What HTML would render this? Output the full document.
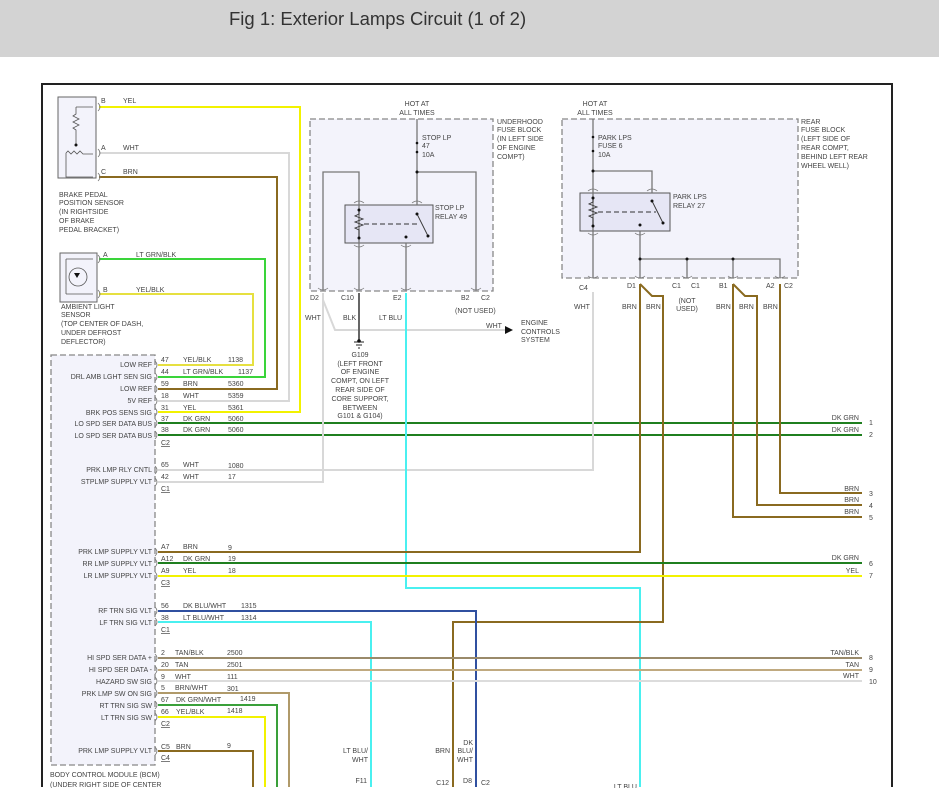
<!DOCTYPE html>
<html><head><meta charset="utf-8"><style>
html,body{margin:0;padding:0;background:#fff;width:939px;height:807px;overflow:hidden}
svg{display:block}
text{font-family:"Liberation Sans",sans-serif;font-size:7px;fill:#444}
.r{text-anchor:end}.m{text-anchor:middle}
</style></head><body>
<svg width="939" height="807" viewBox="0 0 939 807" xmlns="http://www.w3.org/2000/svg">
<rect x="0" y="0" width="939" height="57" fill="#d3d3d3"/>
<text x="229" y="25" style="font-size:18.5px;fill:#333">Fig 1: Exterior Lamps Circuit (1 of 2)</text>
<!-- frame -->
<path d="M42,787 V84 H892 V787" fill="none" stroke="#222" stroke-width="2"/>

<!-- fuse blocks -->
<rect x="310" y="119" width="183" height="172" fill="#f3f3fb" stroke="#888" stroke-dasharray="6,3" stroke-width="1.3"/>
<rect x="562" y="119" width="236" height="159" fill="#f3f3fb" stroke="#888" stroke-dasharray="6,3" stroke-width="1.3"/>
<!-- BCM -->
<rect x="51" y="355" width="104" height="410" fill="#f3f3fb" stroke="#888" stroke-dasharray="6,3" stroke-width="1.3"/>
<!-- sensors -->
<rect x="58" y="97" width="38" height="81" fill="#f3f3fb" stroke="#666"/>
<rect x="60" y="253" width="37" height="49" fill="#f3f3fb" stroke="#666"/>
<g fill="none" stroke="#555" stroke-width="0.8">
<path d="M76,107 H93 M76,107 V114 l-3,2 6,3 -6,3 6,3 -6,3 3,2 V145 M66,153 l2,-2 3,3 3,-3 3,3 3,-3 3,3 H93 M66,153 V177 H93"/>
<path d="M66,259 H93 M66,294 H93 M66,259 V294"/>
<circle cx="78" cy="277" r="9"/>
</g>
<circle cx="76" cy="145" r="1.5" fill="#111"/>
<path d="M74,273 h6 l-3,5z" fill="#111"/>

<!-- relays -->
<rect x="345" y="205" width="88" height="38" fill="#e6e6f5" stroke="#555"/>
<rect x="580" y="193" width="90" height="38" fill="#e6e6f5" stroke="#555"/>
<g fill="none" stroke="#777" stroke-width="1.3">
<path d="M323,290 V172 H359 V290 M417,119 V172 H476 V290 M417,172 V205 M406,243 V290"/>
<path d="M593,119 V278 M593,171 H652 V193 M640,231 V278 M640,259 H780 V278 M687,259 V278 M733,259 V278"/>
</g>
<g fill="none" stroke="#333" stroke-width="0.9">
<path d="M359,210 V214 l-4,2 8,3 -8,3 8,3 -8,3 4,2 V238"/>
<path d="M364,224 H420" stroke-dasharray="5,3"/>
<path d="M417,214 L428,236"/>
<path d="M593,198 V202 l-4,2 8,3 -8,3 8,3 -8,3 4,2 V226"/>
<path d="M598,212 H656" stroke-dasharray="5,3"/>
<path d="M652,201 L663,223"/>
</g>
<g fill="#111">
<circle cx="359" cy="210" r="1.5"/><circle cx="359" cy="238" r="1.5"/><circle cx="417" cy="214" r="1.5"/><circle cx="428" cy="236" r="1.5"/><circle cx="406" cy="237" r="1.5"/>
<circle cx="417" cy="172" r="1.5"/><circle cx="417" cy="143" r="1.3"/><circle cx="417" cy="152" r="1.3"/>
<circle cx="593" cy="198" r="1.5"/><circle cx="593" cy="226" r="1.5"/><circle cx="652" cy="201" r="1.5"/><circle cx="663" cy="223" r="1.5"/><circle cx="640" cy="225" r="1.5"/>
<circle cx="593" cy="171" r="1.5"/><circle cx="593" cy="137" r="1.3"/><circle cx="593" cy="151" r="1.3"/>
<circle cx="640" cy="259" r="1.5"/><circle cx="687" cy="259" r="1.5"/><circle cx="733" cy="259" r="1.5"/>
</g>

<!-- wires -->
<g fill="none" stroke-width="2">
<path d="M99,107 H300 V412 H158" stroke="#f2f200"/>
<path d="M99,153 H289 V401 H158" stroke="#d8d8d8"/>
<path d="M99,177 H277 V389 H158" stroke="#8a6a20"/>
<path d="M99,259 H265 V377 H158" stroke="#3ad43a"/>
<path d="M99,294 H253 V365 H158" stroke="#e6e040"/>
<path d="M158,423 H862 M158,435 H862" stroke="#1f7f1f"/>
<path d="M158,470 H593 V292" stroke="#d8d8d8"/>
<path d="M158,482 H323 V293" stroke="#d8d8d8"/>
<path d="M323,300 L335,330 H505" stroke="#d8d8d8"/>
<path d="M359,293 V342" stroke="#666"/>
<path d="M406,293 V588 H640 V787" stroke="#4af0f0"/>
<path d="M158,552 H640 V284" stroke="#8a6a20"/>
<path d="M640,284 L652,296 H663 V622 H453 V787" stroke="#8a6a20"/>
<path d="M158,563 H862" stroke="#1f7f1f"/>
<path d="M158,576 H862" stroke="#f2f200"/>
<path d="M733,284 V517 H862" stroke="#8a6a20"/>
<path d="M733,284 L745,296 H757 V505 H862" stroke="#8a6a20"/>
<path d="M780,284 V493 H862" stroke="#8a6a20"/>
<path d="M158,611 H476 V787" stroke="#3050a0"/>
<path d="M158,622 H371 V787" stroke="#4af0f0"/>
<path d="M158,658 H862" stroke="#9a8a6a"/>
<path d="M158,670 H862" stroke="#c0aa80"/>
<path d="M158,681 H862" stroke="#dcdcdc"/>
<path d="M158,693 H289 V787" stroke="#b09a6a"/>
<path d="M158,705 H277 V787" stroke="#3aa03a"/>
<path d="M158,717 H265 V787" stroke="#f2f200"/>
<path d="M158,751 H253 V787" stroke="#8a6a20"/>
</g>
<path d="M505,326 L513,330 505,334z" fill="#111"/>
<g stroke="#222" stroke-width="1"><path d="M354,342 h10 M356,345 h6 M358,348 h2"/></g>
<circle cx="359" cy="341" r="1.8" fill="#111"/>

<!-- connector marks -->
<g fill="none" stroke="#777" stroke-width="0.8">
<path d="M318,288 q5,4 10,0 M354,288 q5,4 10,0 M401,288 q5,4 10,0 M471,288 q5,4 10,0 M588,276 q5,4 10,0 M635,276 q5,4 10,0 M682,276 q5,4 10,0 M728,276 q5,4 10,0 M775,276 q5,4 10,0"/>
<path d="M354,203 q5,-4 10,0 M412,203 q5,-4 10,0 M354,245 q5,4 10,0 M401,245 q5,4 10,0 M588,191 q5,-4 10,0 M647,191 q5,-4 10,0 M588,233 q5,4 10,0 M635,233 q5,4 10,0"/>
<path d="M98,103 q4,4 0,8 M98,149 q4,4 0,8 M98,173 q4,4 0,8 M98,255 q4,4 0,8 M98,290 q4,4 0,8"/>
<path d="M155,361 q4,4 0,8 M155,373 q4,4 0,8 M155,385 q4,4 0,8 M155,397 q4,4 0,8 M155,408 q4,4 0,8 M155,419 q4,4 0,8 M155,431 q4,4 0,8 M155,466 q4,4 0,8 M155,478 q4,4 0,8 M155,548 q4,4 0,8 M155,559 q4,4 0,8 M155,572 q4,4 0,8 M155,607 q4,4 0,8 M155,618 q4,4 0,8 M155,654 q4,4 0,8 M155,666 q4,4 0,8 M155,677 q4,4 0,8 M155,689 q4,4 0,8 M155,701 q4,4 0,8 M155,713 q4,4 0,8 M155,747 q4,4 0,8"/>
</g>

<!-- sensor labels -->
<text x="101" y="103">B</text><text x="123" y="103">YEL</text>
<text x="101" y="150">A</text><text x="123" y="150">WHT</text>
<text x="101" y="174">C</text><text x="123" y="174">BRN</text>
<text x="59" y="197">BRAKE PEDAL</text><text x="59" y="205">POSITION SENSOR</text><text x="59" y="214">(IN RIGHTSIDE</text><text x="59" y="223">OF BRAKE</text><text x="59" y="232">PEDAL BRACKET)</text>
<text x="103" y="257">A</text><text x="136" y="257">LT GRN/BLK</text>
<text x="103" y="292">B</text><text x="136" y="292">YEL/BLK</text>
<text x="61" y="309">AMBIENT LIGHT</text><text x="61" y="317">SENSOR</text><text x="61" y="326">(TOP CENTER OF DASH,</text><text x="61" y="335">UNDER DEFROST</text><text x="61" y="344">DEFLECTOR)</text>

<!-- fuse block labels -->
<text class="m" x="417" y="106">HOT AT</text><text class="m" x="417" y="115">ALL TIMES</text>
<text x="422" y="140">STOP LP</text><text x="422" y="148">47</text><text x="422" y="157">10A</text>
<text x="435" y="210">STOP LP</text><text x="435" y="219">RELAY 49</text>
<text x="497" y="124">UNDERHOOD</text><text x="497" y="132">FUSE BLOCK</text><text x="497" y="141">(IN LEFT SIDE</text><text x="497" y="150">OF ENGINE</text><text x="497" y="159">COMPT)</text>
<text x="310" y="300">D2</text><text x="341" y="300">C10</text><text x="393" y="300">E2</text><text x="461" y="300">B2</text><text x="481" y="300">C2</text>
<text x="455" y="313">(NOT USED)</text>
<text x="305" y="320">WHT</text><text x="343" y="320">BLK</text><text x="379" y="320">LT BLU</text><text x="486" y="328">WHT</text>
<text x="521" y="325">ENGINE</text><text x="521" y="334">CONTROLS</text><text x="521" y="342">SYSTEM</text>
<g class="m"><text class="m" x="360" y="357">G109</text><text class="m" x="360" y="366">(LEFT FRONT</text><text class="m" x="360" y="374">OF ENGINE</text><text class="m" x="360" y="383">COMPT, ON LEFT</text><text class="m" x="360" y="392">REAR SIDE OF</text><text class="m" x="360" y="401">CORE SUPPORT,</text><text class="m" x="360" y="410">BETWEEN</text><text class="m" x="360" y="418">G101 &amp; G104)</text></g>

<text class="m" x="595" y="106">HOT AT</text><text class="m" x="595" y="115">ALL TIMES</text>
<text x="598" y="140">PARK LPS</text><text x="598" y="148">FUSE 6</text><text x="598" y="157">10A</text>
<text x="673" y="199">PARK LPS</text><text x="673" y="208">RELAY 27</text>
<text x="801" y="124">REAR</text><text x="801" y="132">FUSE BLOCK</text><text x="801" y="141">(LEFT SIDE OF</text><text x="801" y="150">REAR COMPT,</text><text x="801" y="159">BEHIND LEFT REAR</text><text x="801" y="168">WHEEL WELL)</text>
<text x="579" y="290">C4</text><text x="627" y="288">D1</text><text x="672" y="288">C1</text><text x="691" y="288">C1</text><text x="719" y="288">B1</text><text x="766" y="288">A2</text><text x="784" y="288">C2</text>
<text x="574" y="309">WHT</text><text x="622" y="309">BRN</text><text x="646" y="309">BRN</text><text x="716" y="309">BRN</text><text x="739" y="309">BRN</text><text x="763" y="309">BRN</text>
<text class="m" x="687" y="303">(NOT</text><text class="m" x="687" y="311">USED)</text>

<!-- BCM labels -->
<g>
<text class="r" x="152" y="367">LOW REF</text><text class="r" x="152" y="379">DRL AMB LGHT SEN SIG</text><text class="r" x="152" y="391">LOW REF</text><text class="r" x="152" y="403">5V REF</text><text class="r" x="152" y="415">BRK POS SENS SIG</text><text class="r" x="152" y="426">LO SPD SER DATA BUS</text><text class="r" x="152" y="438">LO SPD SER DATA BUS</text>
<text class="r" x="152" y="472">PRK LMP RLY CNTL</text><text class="r" x="152" y="484">STPLMP SUPPLY VLT</text>
<text class="r" x="152" y="554">PRK LMP SUPPLY VLT</text><text class="r" x="152" y="566">RR LMP SUPPLY VLT</text><text class="r" x="152" y="578">LR LMP SUPPLY VLT</text>
<text class="r" x="152" y="613">RF TRN SIG VLT</text><text class="r" x="152" y="625">LF TRN SIG VLT</text>
<text class="r" x="152" y="660">HI SPD SER DATA +</text><text class="r" x="152" y="672">HI SPD SER DATA -</text><text class="r" x="152" y="684">HAZARD SW SIG</text><text class="r" x="152" y="696">PRK LMP SW ON SIG</text><text class="r" x="152" y="708">RT TRN SIG SW</text><text class="r" x="152" y="720">LT TRN SIG SW</text>
<text class="r" x="152" y="753">PRK LMP SUPPLY VLT</text>
</g>
<text x="50" y="777">BODY CONTROL MODULE (BCM)</text><text x="50" y="787">(UNDER RIGHT SIDE OF CENTER</text>
<g>
<text x="161" y="362">47</text><text x="183" y="362">YEL/BLK</text><text x="228" y="362">1138</text>
<text x="161" y="374">44</text><text x="183" y="374">LT GRN/BLK</text><text x="238" y="374">1137</text>
<text x="161" y="386">59</text><text x="183" y="386">BRN</text><text x="228" y="386">5360</text>
<text x="161" y="398">18</text><text x="183" y="398">WHT</text><text x="228" y="398">5359</text>
<text x="161" y="410">31</text><text x="183" y="410">YEL</text><text x="228" y="410">5361</text>
<text x="161" y="421">37</text><text x="183" y="421">DK GRN</text><text x="228" y="421">5060</text>
<text x="161" y="432">38</text><text x="183" y="432">DK GRN</text><text x="228" y="432">5060</text>
<text x="161" y="445" text-decoration="underline">C2</text>
<text x="161" y="467">65</text><text x="183" y="467">WHT</text><text x="228" y="468">1080</text>
<text x="161" y="479">42</text><text x="183" y="479">WHT</text><text x="228" y="479">17</text>
<text x="161" y="491" text-decoration="underline">C1</text>
<text x="161" y="549">A7</text><text x="183" y="549">BRN</text><text x="228" y="550">9</text>
<text x="161" y="561">A12</text><text x="183" y="561">DK GRN</text><text x="228" y="561">19</text>
<text x="161" y="573">A9</text><text x="183" y="573">YEL</text><text x="228" y="573">18</text>
<text x="161" y="585" text-decoration="underline">C3</text>
<text x="161" y="608">56</text><text x="183" y="608">DK BLU/WHT</text><text x="241" y="608">1315</text>
<text x="161" y="620">38</text><text x="183" y="620">LT BLU/WHT</text><text x="241" y="620">1314</text>
<text x="161" y="632" text-decoration="underline">C1</text>
<text x="161" y="655">2</text><text x="175" y="655">TAN/BLK</text><text x="227" y="655">2500</text>
<text x="161" y="667">20</text><text x="175" y="667">TAN</text><text x="227" y="667">2501</text>
<text x="161" y="679">9</text><text x="175" y="679">WHT</text><text x="227" y="679">111</text>
<text x="161" y="690">5</text><text x="175" y="690">BRN/WHT</text><text x="227" y="691">301</text>
<text x="161" y="702">67</text><text x="176" y="702">DK GRN/WHT</text><text x="240" y="701">1419</text>
<text x="161" y="714">66</text><text x="176" y="714">YEL/BLK</text><text x="227" y="713">1418</text>
<text x="161" y="726" text-decoration="underline">C2</text>
<text x="161" y="749">C5</text><text x="176" y="749">BRN</text><text x="227" y="748">9</text>
<text x="161" y="760" text-decoration="underline">C4</text>
</g>
<!-- right labels -->
<g>
<text class="r" x="859" y="420">DK GRN</text><text x="869" y="425">1</text>
<text class="r" x="859" y="432">DK GRN</text><text x="869" y="437">2</text>
<text class="r" x="859" y="491">BRN</text><text x="869" y="496">3</text>
<text class="r" x="859" y="502">BRN</text><text x="869" y="508">4</text>
<text class="r" x="859" y="514">BRN</text><text x="869" y="520">5</text>
<text class="r" x="859" y="560">DK GRN</text><text x="869" y="566">6</text>
<text class="r" x="859" y="573">YEL</text><text x="869" y="578">7</text>
<text class="r" x="859" y="655">TAN/BLK</text><text x="869" y="660">8</text>
<text class="r" x="859" y="667">TAN</text><text x="869" y="672">9</text>
<text class="r" x="859" y="678">WHT</text><text x="869" y="684">10</text>
</g>
<!-- bottom labels -->
<text class="r" x="368" y="753">LT BLU/</text><text class="r" x="368" y="762">WHT</text>
<text class="r" x="450" y="753">BRN</text><text class="r" x="473" y="745">DK</text><text class="r" x="473" y="753">BLU/</text><text class="r" x="473" y="762">WHT</text>
<text class="r" x="367" y="783">F11</text><text class="r" x="449" y="785">C12</text><text class="r" x="472" y="783">D8</text><text x="481" y="785">C2</text>
<text class="r" x="637" y="789">LT BLU</text>
<rect x="0" y="788" width="939" height="19" fill="#fff"/>
</svg>
</body></html>
